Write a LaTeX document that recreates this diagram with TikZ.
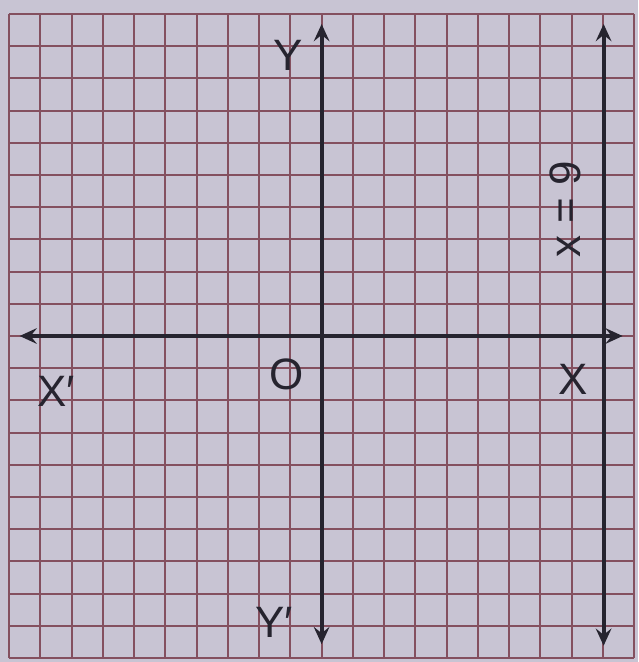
\documentclass[tikz,border=0pt]{standalone}
\usepackage{fontspec}
\setmainfont{Liberation Sans}
\definecolor{PaperGrey}{HTML}{C8C4D3}
\definecolor{GridRed}{HTML}{84505F}
\definecolor{InkBlue}{HTML}{26242F}
\usetikzlibrary{arrows.meta}

\begin{document}
\begin{tikzpicture}[
        y=1.03cm,
        gridline/.style={draw=GridRed, line width=1.8pt},
        axis/.style={{Stealth[length=5.5mm, width=5mm, inset=2mm]}-{Stealth[length=5.5mm, width=5mm, inset=2mm]}, line width=3.6pt, InkBlue},
        lbl/.style={font=\fontsize{40}{44}\selectfont, text=InkBlue, inner sep=0pt}
    ]
        \fill[PaperGrey] (-10.288, -10.124) rectangle (10.128, 10.435);
        \useasboundingbox (-10.288, -10.124) rectangle (10.128, 10.435);

        \foreach \i in {-10,...,10} {
            \draw[gridline] (\i, -10) -- (\i, 10);
            \draw[gridline] (-10, \i) -- (10, \i);
        }

        \coordinate (xl) at (-9.66, 0);
        \coordinate (xr) at (9.63, 0);
        \coordinate (yt) at (0, 9.69);
        \coordinate (yb) at (0, -9.57);
        \coordinate (nt) at (9.02, 9.69);
        \coordinate (nb) at (9.02, -9.62);

        \draw[axis] (xl) -- (xr);
        \draw[axis] (yb) -- (yt);
        \draw[axis] (nb) -- (nt);

        \node[lbl] (ylab) at (-1.06, 8.7) {Y};
        \node[lbl] (yplab) at (-1.52, -8.88) {Y′};
        \node[lbl] (xlab) at (8.06, -1.34) {X};
        \node[lbl] (xplab) at (-8.5, -1.71) {X′};
        \node[lbl] (olab) at (-1.12, -1.18) {O};
        \node[lbl, rotate=90] (linelab) at (7.81, 3.94) {x = 9};
    \end{tikzpicture}
\end{document}
